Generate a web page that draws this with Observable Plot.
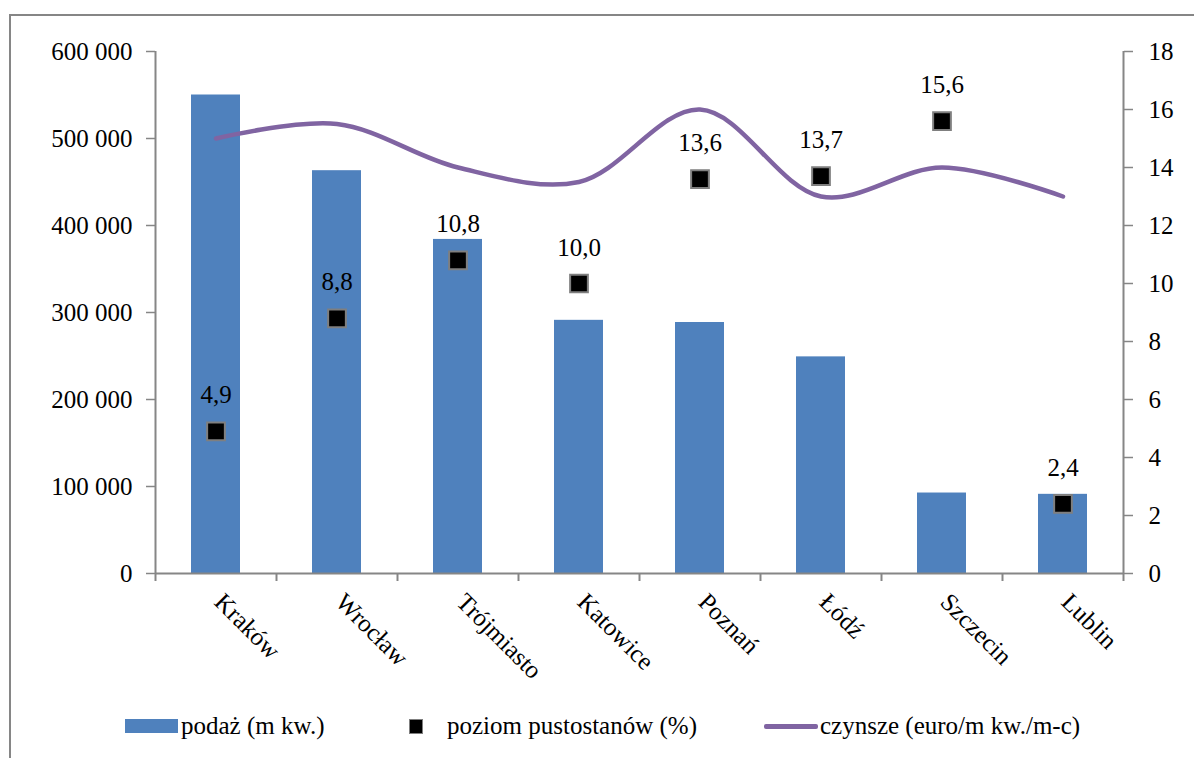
<!DOCTYPE html>
<html>
<head>
<meta charset="utf-8">
<script src="https://cdn.jsdelivr.net/npm/d3@7"></script>
<script src="https://cdn.jsdelivr.net/npm/@observablehq/plot@0.6"></script>
<style>
  html, body { margin: 0; padding: 0; background: #fff; }
  body { width: 1194px; height: 758px; position: relative; overflow: hidden; font-family: "Liberation Serif", "DejaVu Serif", "Noto Serif", Times, serif; }
  #border { position: absolute; left: 9px; top: 14px; width: 1300px; height: 900px; border-left: 2px solid #868686; border-top: 2px solid #868686; }
  #chart { position: absolute; left: 0; top: 0; }
  #chart svg, #chart svg text { font-family: "Liberation Serif", "DejaVu Serif", "Noto Serif", Times, serif !important; }
  #legend { position: absolute; left: 0; top: 708px; width: 1194px; height: 36px; font-size: 25px; color: #000; }
  .li { position: absolute; top: 0; height: 36px; display: flex; align-items: center; white-space: nowrap; }
  .sw { display: inline-block; }
</style>
</head>
<body>
<div id="border"></div>
<div id="chart"></div>
<div id="legend"></div>
<script>
const cities = ["Kraków", "Wrocław", "Trójmiasto", "Katowice", "Poznań", "Łódź", "Szczecin", "Lublin"];
const supply = [550000, 463000, 384000, 291000, 288500, 249000, 92500, 91000];
const vacancy = [4.9, 8.8, 10.8, 10.0, 13.6, 13.7, 15.6, 2.4];
const rent = [15.0, 15.5, 14.0, 13.5, 16.0, 13.0, 14.0, 13.0];
const leftTicks = [0, 100000, 200000, 300000, 400000, 500000, 600000];
const rightTicks = [0, 2, 4, 6, 8, 10, 12, 14, 16, 18];
const legendLabels = ["podaż (m kw.)", "poziom pustostanów (%)", "czynsze (euro/m kw./m-c)"];

const W = 1194, H = 700, ML = 155, MR = 71, MT = 51, MB = 127;
const yMax = 600000, rMax = 18, k = yMax / rMax;
const step = (W - ML - MR) / cities.length;
const axisColor = "#868686";
const font = "'Liberation Serif', 'DejaVu Serif', 'Noto Serif', Times, serif";

const rows = cities.map((c, i) => ({city: c, supply: supply[i], vac: vacancy[i] * k, vacLabel: vacancy[i].toFixed(1).replace(".", ","), rent: rent[i] * k}));
const fmt = d => d3.format(",")(d).replace(/,/g, " ");

const plot = Plot.plot({
  width: W, height: H,
  marginLeft: ML, marginRight: MR, marginTop: MT, marginBottom: MB,
  style: {fontFamily: font, background: "transparent", overflow: "visible"},
  x: {domain: cities, padding: 0, axis: null},
  y: {domain: [0, yMax], axis: null},
  marks: [
    Plot.barY(rows, {x: "city", y: "supply", fill: "#4F81BD", insetLeft: 36, insetRight: 36}),
    Plot.ruleY([0], {stroke: axisColor, strokeWidth: 2}),
    Plot.ruleX([cities[0]], {x: d => d, dx: -step / 2, y1: 0, y2: yMax, stroke: axisColor, strokeWidth: 2}),
    Plot.ruleX([cities[cities.length - 1]], {x: d => d, dx: step / 2, y1: 0, y2: yMax, stroke: axisColor, strokeWidth: 2}),
    Plot.ruleX(cities, {x: d => d, dx: -step / 2, y1: 0, y2: 0, insetBottom: -8, stroke: axisColor, strokeWidth: 2}),
    Plot.ruleX([cities[cities.length - 1]], {x: d => d, dx: step / 2, y1: 0, y2: 0, insetBottom: -8, stroke: axisColor, strokeWidth: 2}),
    Plot.axisY({anchor: "left", ticks: leftTicks, tickFormat: fmt, tickSize: 9, tickPadding: 14, fontSize: 25, stroke: axisColor, strokeWidth: 1.5, fill: "black"}),
    Plot.axisY({anchor: "right", ticks: rightTicks.map(v => v * k), tickFormat: d => String(Math.round(d / k)), tickSize: 9, tickPadding: 16, fontSize: 25, stroke: axisColor, strokeWidth: 1.5, fill: "black"}),
    Plot.text(cities, {x: d => d, frameAnchor: "bottom", text: d => d, rotate: 45, textAnchor: "start", dx: -3, dy: 30, fontSize: 25, fill: "black"}),
    Plot.line(rows, {x: "city", y: "rent", stroke: "#8064A2", strokeWidth: 4.5, curve: "catmull-rom"}),
    Plot.dot(rows, {x: "city", y: "vac", symbol: "square", r: 10, fill: "black", stroke: "#7F7F7F", strokeWidth: 2}),
    Plot.text(rows, {x: "city", y: "vac", text: "vacLabel", dy: -36, fontSize: 25, fill: "black"})
  ]
});
document.getElementById("chart").appendChild(plot);

const legend = document.getElementById("legend");
const items = [
  {left: 125, sw: '<span class="sw" style="width:53px;height:14px;background:#4F81BD;margin-right:3px"></span>', label: legendLabels[0]},
  {left: 409, sw: '<span class="sw" style="width:14px;height:15px;background:#000;border:1.5px solid #7F7F7F;margin-right:24px;box-sizing:border-box"></span>', label: legendLabels[1]},
  {left: 764, sw: '<span class="sw" style="width:54px;height:5px;background:#8064A2;border-radius:2px;margin-right:2px"></span>', label: legendLabels[2]}
];
items.forEach(it => {
  const d = document.createElement("div");
  d.className = "li";
  d.style.left = it.left + "px";
  d.innerHTML = it.sw + "<span>" + it.label + "</span>";
  legend.appendChild(d);
});
</script>
</body>
</html>
